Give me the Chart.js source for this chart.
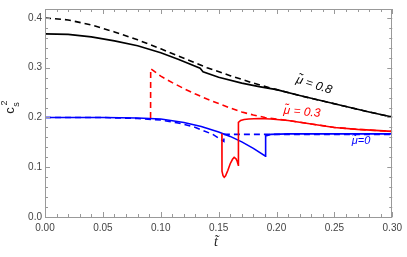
<!DOCTYPE html>
<html>
<head>
<meta charset="utf-8">
<script src="https://cdn.jsdelivr.net/npm/chart.js@4/dist/chart.umd.min.js"></script>
<style>
  html, body { margin: 0; padding: 0; background: #fff; }
  #c { display: block; }
</style>
</head>
<body>
<canvas id="c" width="407" height="257"></canvas>
<script>
// mu = 0.8
const tBlackDash = [0, 0.02, 0.04, 0.06, 0.08, 0.10, 0.12, 0.14, 0.16, 0.18, 0.20, 0.22, 0.24, 0.26, 0.28, 0.30];
const cBlackDash = [0.400, 0.396, 0.386, 0.372, 0.356, 0.338, 0.319, 0.300, 0.284, 0.269, 0.256, 0.244, 0.233, 0.222, 0.211, 0.201];
const tBlackSolid = [0, 0.02, 0.04, 0.06, 0.08, 0.10, 0.115, 0.134, 0.1365, 0.15, 0.17, 0.185, 0.20, 0.22, 0.24, 0.26, 0.28, 0.30];
const cBlackSolid = [0.368, 0.367, 0.362, 0.354, 0.344, 0.330, 0.317, 0.299, 0.292, 0.281, 0.269, 0.262, 0.256, 0.244, 0.233, 0.222, 0.211, 0.201];

// mu = 0.3 (the part before the jumps lies under the blue curves)
const tRedDash = [0.0912, 0.0913, 0.10, 0.11, 0.12, 0.13, 0.14, 0.15, 0.16, 0.17, 0.18, 0.19, 0.20, 0.21, 0.23, 0.25, 0.27, 0.30];
const cRedDash = [0.199, 0.298, 0.283, 0.270, 0.258, 0.247, 0.237, 0.228, 0.219, 0.211, 0.205, 0.200, 0.197, 0.194, 0.187, 0.180, 0.176, 0.172];
const tRedSolid = [0.1528, 0.1529, 0.1538, 0.1548, 0.156, 0.158, 0.160, 0.162, 0.1634, 0.165, 0.166, 0.167, 0.1671, 0.169, 0.172, 0.176, 0.185, 0.195, 0.21, 0.23, 0.25, 0.27, 0.30];
const cRedSolid = [0.168, 0.092, 0.083, 0.080, 0.083, 0.094, 0.107, 0.116, 0.120, 0.117, 0.112, 0.104, 0.190, 0.194, 0.196, 0.197, 0.198, 0.197, 0.194, 0.187, 0.180, 0.176, 0.172];

// mu = 0
const tBlueSolid = [0, 0.05, 0.08, 0.10, 0.12, 0.135, 0.15, 0.16, 0.17, 0.18, 0.1905, 0.1906, 0.195, 0.21, 0.30];
const cBlueSolid = [0.200, 0.200, 0.199, 0.197, 0.190, 0.182, 0.171, 0.162, 0.151, 0.138, 0.122, 0.163, 0.166, 0.167, 0.167];
const tBlueDash = [0, 0.05, 0.08, 0.10, 0.115, 0.13, 0.145, 0.1545, 0.1546, 0.20, 0.30];
const cBlueDash = [0.200, 0.200, 0.198, 0.195, 0.189, 0.180, 0.166, 0.152, 0.166, 0.166, 0.166];

const xTicks = [0, 0.05, 0.10, 0.15, 0.20, 0.25, 0.30];
const yTicks = [0, 0.1, 0.2, 0.3, 0.4];

function pts(ts, cs) {
  return ts.map((t, i) => ({ x: t, y: cs[i] }));
}

function line(ts, cs, color, dashed) {
  return {
    data: pts(ts, cs),
    borderColor: color,
    borderWidth: 1.6,
    borderDash: dashed ? [6, 4] : [],
    pointRadius: 0,
    showLine: true,
    fill: false,
    tension: 0
  };
}

// frame, inward ticks, axis titles and curve labels
const decor = {
  id: 'decor',
  afterDraw(chart) {
    const ctx = chart.ctx;
    const a = chart.chartArea;
    const xs = chart.scales.x, ys = chart.scales.y;
    ctx.save();
    ctx.strokeStyle = '#999';
    ctx.lineWidth = 1;
    ctx.strokeRect(Math.round(a.left) + 0.5, Math.round(a.top) + 0.5,
      Math.round(a.right - a.left) - 1, Math.round(a.bottom - a.top));

    ctx.beginPath();
    for (let i = 0; i <= 30; i++) {
      const v = i / 100;
      const px = Math.round(xs.getPixelForValue(v)) + 0.5;
      const len = i % 5 === 0 ? 5 : 3;
      ctx.moveTo(px, a.bottom); ctx.lineTo(px, a.bottom - len);
      ctx.moveTo(px, a.top); ctx.lineTo(px, a.top + len);
    }
    for (let i = 0; i <= 20; i++) {
      const v = i / 50;
      const py = Math.round(ys.getPixelForValue(v)) + 0.5;
      const len = i % 5 === 0 ? 5 : 3;
      ctx.moveTo(a.left, py); ctx.lineTo(a.left + len, py);
      ctx.moveTo(a.right, py); ctx.lineTo(a.right - len, py);
    }
    ctx.stroke();

    // y title c_s^2
    ctx.fillStyle = '#222';
    ctx.textAlign = 'center';
    ctx.textBaseline = 'middle';
    ctx.translate(11, 112);
    ctx.rotate(-Math.PI / 2);
    ctx.font = '13px "Liberation Sans", Arial, sans-serif';
    ctx.fillText('c', 1.5, -0.5);
    ctx.font = '9px "Liberation Sans", Arial, sans-serif';
    ctx.fillText('2', 9, -6.5);
    ctx.fillText('s', 7.5, 6);
    ctx.restore();

    // x title
    ctx.save();
    ctx.fillStyle = '#222';
    ctx.textAlign = 'center';
    ctx.textBaseline = 'middle';
    ctx.font = 'italic 14px "Liberation Serif", serif';
    ctx.fillText('t\u0303', 216, 242);

    // curve labels
    ctx.font = 'italic 12px "Liberation Sans", Arial, sans-serif';
    ctx.fillStyle = '#000';
    ctx.save();
    ctx.translate(314, 85);
    ctx.rotate(18 * Math.PI / 180);
    ctx.fillText('\u03bc\u0303 = 0.8', 0, 0);
    ctx.restore();

    ctx.fillStyle = '#ff0000';
    ctx.save();
    ctx.translate(302, 112);
    ctx.rotate(5 * Math.PI / 180);
    ctx.fillText('\u03bc\u0303 = 0.3', 0, 0);
    ctx.restore();

    ctx.fillStyle = '#0000ff';
    ctx.font = 'italic 11px "Liberation Sans", Arial, sans-serif';
    ctx.fillText('\u03bc\u0303=0', 361, 141);
    ctx.restore();
  }
};

new Chart(document.getElementById('c'), {
  type: 'scatter',
  data: {
    datasets: [
      line(tRedDash, cRedDash, '#ff0000', true),
      line(tRedSolid, cRedSolid, '#ff0000', false),
      line(tBlueDash, cBlueDash, '#0000ff', true),
      line(tBlueSolid, cBlueSolid, '#0000ff', false),
      line(tBlackDash, cBlackDash, '#000000', true),
      line(tBlackSolid, cBlackSolid, '#000000', false)
    ]
  },
  options: {
    responsive: false,
    animation: false,
    devicePixelRatio: 1,
    layout: { padding: { top: 1, right: 10, left: 0, bottom: 0 } },
    plugins: { legend: { display: false }, tooltip: { enabled: false } },
    scales: {
      x: {
        type: 'linear',
        min: 0,
        max: 0.3,
        afterBuildTicks: s => { s.ticks = xTicks.map(v => ({ value: v })); },
        afterFit: s => { s.height = 40; },
        grid: { display: false, drawTicks: false },
        border: { display: false },
        ticks: {
          padding: 5,
          color: '#444',
          font: { size: 10, family: '"Liberation Sans", Arial, sans-serif' },
          maxRotation: 0,
          callback: v => v.toFixed(2)
        }
      },
      y: {
        type: 'linear',
        min: 0,
        max: 0.418,
        afterBuildTicks: s => { s.ticks = yTicks.map(v => ({ value: v })); },
        afterFit: s => { s.width = 45; },
        grid: { display: false, drawTicks: false },
        border: { display: false },
        ticks: {
          padding: 3,
          color: '#444',
          font: { size: 10, family: '"Liberation Sans", Arial, sans-serif' },
          callback: v => v.toFixed(1)
        }
      }
    }
  },
  plugins: [decor]
});
</script>
</body>
</html>
